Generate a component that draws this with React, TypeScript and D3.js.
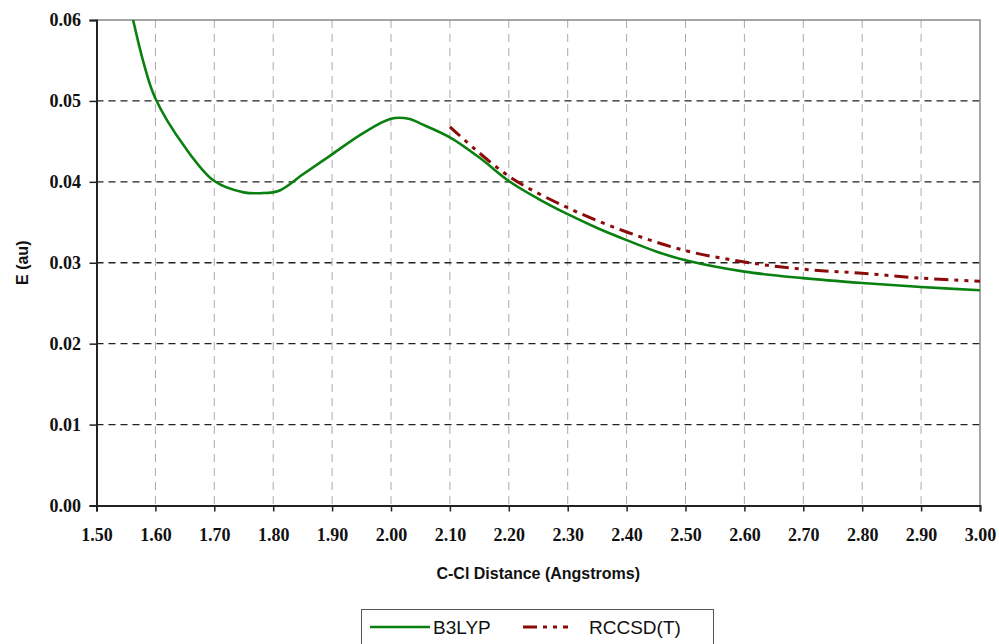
import React, { useRef, useEffect } from 'react';
import * as d3 from 'd3';

// B3LYP curve
const b3lypX = [1.55, 1.58, 1.60, 1.65, 1.70, 1.75, 1.78, 1.81, 1.85, 1.90, 1.95, 2.00, 2.03, 2.05, 2.10, 2.15, 2.20, 2.25, 2.30, 2.35, 2.40, 2.45, 2.50, 2.60, 2.70, 2.80, 2.90, 3.00];
const b3lypE = [0.0640, 0.0547, 0.0503, 0.0443, 0.0401, 0.0387, 0.0386, 0.0389, 0.0409, 0.0434, 0.0459, 0.0478, 0.0478, 0.0472, 0.0455, 0.0430, 0.0401, 0.0379, 0.0360, 0.0343, 0.0328, 0.0314, 0.0303, 0.0289, 0.0281, 0.0275, 0.0270, 0.0266];

// RCCSD(T) points
const rccsdX = [2.10, 2.20, 2.30, 2.40, 2.50, 2.60, 2.70, 2.80, 2.90, 3.00];
const rccsdE = [0.0468, 0.0407, 0.0368, 0.0338, 0.0315, 0.0301, 0.0292, 0.0287, 0.0281, 0.0277];

const xTicks = [1.5, 1.6, 1.7, 1.8, 1.9, 2.0, 2.1, 2.2, 2.3, 2.4, 2.5, 2.6, 2.7, 2.8, 2.9, 3.0];
const yTicks = [0, 0.01, 0.02, 0.03, 0.04, 0.05, 0.06];

const W = 999;
const H = 644;
const GREEN = '#0a8010';
const RED = '#8b0a0a';
const RED_DASH = '14,6,4,6,4,6';

const App: React.FC = () => {
  const svgRef = useRef<SVGSVGElement>(null);

  useEffect(() => {
    document.body.style.margin = '0';
    if (!svgRef.current) return;
    const svg = d3.select(svgRef.current);
    svg.selectAll('*').remove();

    const left = 96.5, right = 980, top = 20, bottom = 505.5;
    const x = d3.scaleLinear().domain([1.5, 3.0]).range([left, right]);
    const y = d3.scaleLinear().domain([0, 0.06]).range([bottom, top]);

    svg.append('defs').append('clipPath').attr('id', 'plot-clip')
      .append('rect')
      .attr('x', left).attr('y', top)
      .attr('width', right - left).attr('height', bottom - top);

    // vertical grid (light gray dashed)
    svg.append('g')
      .selectAll('line')
      .data(xTicks.slice(1, -1))
      .enter()
      .append('line')
      .attr('x1', d => x(d)).attr('x2', d => x(d))
      .attr('y1', top).attr('y2', bottom)
      .attr('stroke', '#aaa')
      .attr('stroke-width', 1)
      .attr('stroke-dasharray', '8,6');

    // horizontal grid (dark dashed)
    svg.append('g')
      .selectAll('line')
      .data(yTicks.slice(1, -1))
      .enter()
      .append('line')
      .attr('x1', left).attr('x2', right)
      .attr('y1', d => y(d)).attr('y2', d => y(d))
      .attr('stroke', '#222')
      .attr('stroke-width', 1.3)
      .attr('stroke-dasharray', '7,5');

    // top and right border
    svg.append('path')
      .attr('d', `M${left},${top}H${right}V${bottom}`)
      .attr('fill', 'none')
      .attr('stroke', '#888')
      .attr('stroke-width', 1.5);

    // axes
    const xAxis = svg.append('g')
      .attr('transform', `translate(0,${bottom})`)
      .call(d3.axisBottom(x).tickValues(xTicks).tickSize(6).tickFormat(d => (d as number).toFixed(2)));
    const yAxis = svg.append('g')
      .attr('transform', `translate(${left},0)`)
      .call(d3.axisLeft(y).tickValues(yTicks).tickSize(7).tickFormat(d => (d as number).toFixed(2)));

    [xAxis, yAxis].forEach(a => {
      a.select('.domain').attr('stroke', '#222').attr('stroke-width', 2);
      a.selectAll('.tick line').attr('stroke', '#222').attr('stroke-width', 1.5);
      a.selectAll('.tick text')
        .attr('font-family', '"Liberation Serif", "Times New Roman", serif')
        .attr('font-weight', 'bold')
        .attr('font-size', 18)
        .attr('fill', '#111');
    });
    xAxis.selectAll('.tick text').attr('dy', '1.45em');
    yAxis.selectAll('.tick text').attr('dx', '-0.3em');

    // axis titles
    svg.append('text')
      .attr('x', (left + right) / 2)
      .attr('y', 579)
      .attr('text-anchor', 'middle')
      .attr('font-family', '"Liberation Sans", Arial, sans-serif')
      .attr('font-weight', 'bold')
      .attr('font-size', 16)
      .attr('fill', '#111')
      .text('C-Cl Distance (Angstroms)');

    svg.append('text')
      .attr('transform', `translate(28,${(top + bottom) / 2}) rotate(-90)`)
      .attr('text-anchor', 'middle')
      .attr('font-family', '"Liberation Sans", Arial, sans-serif')
      .attr('font-weight', 'bold')
      .attr('font-size', 16)
      .attr('fill', '#111')
      .text('E (au)');

    const line = d3.line<[number, number]>()
      .x(d => x(d[0]))
      .y(d => y(d[1]))
      .curve(d3.curveCatmullRom.alpha(0.5));

    const plot = svg.append('g').attr('clip-path', 'url(#plot-clip)');

    plot.append('path')
      .datum(b3lypX.map((v, i) => [v, b3lypE[i]] as [number, number]))
      .attr('d', line)
      .attr('fill', 'none')
      .attr('stroke', GREEN)
      .attr('stroke-width', 2.6);

    plot.append('path')
      .datum(rccsdX.map((v, i) => [v, rccsdE[i]] as [number, number]))
      .attr('d', line)
      .attr('fill', 'none')
      .attr('stroke', RED)
      .attr('stroke-width', 3)
      .attr('stroke-dasharray', RED_DASH);

    // legend
    const lg = svg.append('g');
    lg.append('rect')
      .attr('x', 361.5).attr('y', 609.5)
      .attr('width', 352).attr('height', 40)
      .attr('fill', '#fff')
      .attr('stroke', '#555')
      .attr('stroke-width', 1);
    lg.append('line')
      .attr('x1', 370).attr('x2', 430).attr('y1', 627).attr('y2', 627)
      .attr('stroke', GREEN).attr('stroke-width', 2.6);
    lg.append('text')
      .attr('x', 433).attr('y', 634)
      .attr('font-family', '"Liberation Sans", Arial, sans-serif')
      .attr('font-size', 19)
      .attr('fill', '#111')
      .text('B3LYP');
    lg.append('line')
      .attr('x1', 523).attr('x2', 568).attr('y1', 627).attr('y2', 627)
      .attr('stroke', RED).attr('stroke-width', 3)
      .attr('stroke-dasharray', RED_DASH);
    lg.append('text')
      .attr('x', 589).attr('y', 634)
      .attr('font-family', '"Liberation Sans", Arial, sans-serif')
      .attr('font-size', 19)
      .attr('fill', '#111')
      .text('RCCSD(T)');
  }, []);

  return <svg ref={svgRef} width={W} height={H} style={{ display: 'block', background: '#fff' }} />;
};

export default App;
